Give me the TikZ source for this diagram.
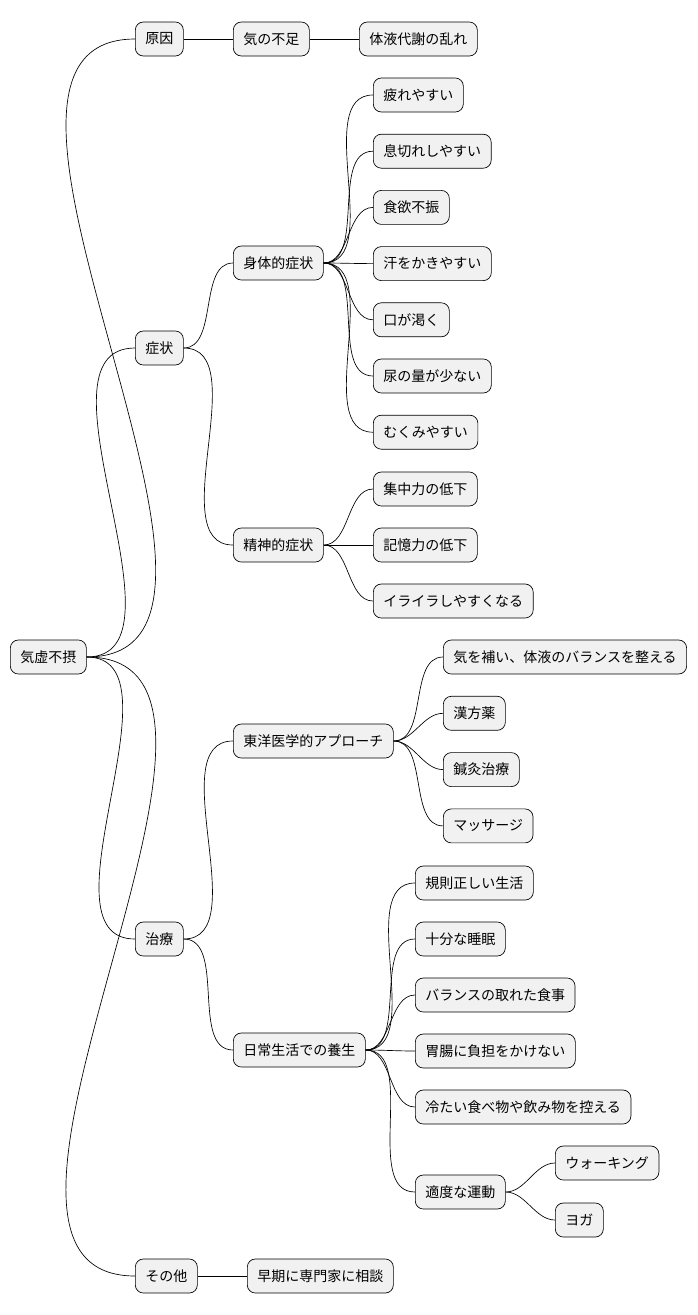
\documentclass[tikz,border=0pt]{standalone}
\usepackage{fontspec}
\setmainfont{Noto Sans CJK JP}
\usetikzlibrary{positioning}
\definecolor{boxfill}{HTML}{F1F1F1}
\tikzset{
    every picture/.style={line width=0.5pt},
    box/.style={draw,rounded corners=6pt,fill=boxfill,minimum height=25.5pt,
        inner xsep=7.5pt,inner ysep=0pt,anchor=west,font=\fontsize{10.5pt}{12pt}\selectfont},
    link/.style={out=0,in=180,looseness=0.9}
}
\begin{document}
\begin{tikzpicture}[x=0.75pt,y=-0.75pt]
    \useasboundingbox (0,0) rectangle (698,1315);
    % root and first level
    \node[box] (root) at (10,657) {気虚不摂};
    \node[box] (cause) at (135,39) {原因};
    \node[box] (symp) at (135,348) {症状};
    \node[box] (treat) at (135,939) {治療};
    \node[box] (other) at (135,1276) {その他};
    \foreach \n in {cause,symp,treat,other}
        \draw (root.east) to[link] (\n.west);
    % cause
    \node[box] (qi) at (233,39) {気の不足};
    \node[box] (fluid) at (359,39) {体液代謝の乱れ};
    \draw (cause) -- (qi) -- (fluid);
    % symptoms
    \node[box] (body) at (233,263) {身体的症状};
    \node[box] (mind) at (233,545) {精神的症状};
    \draw (symp.east) to[link] (body.west);
    \draw (symp.east) to[link] (mind.west);
    \foreach \t [count=\i] in {疲れやすい,息切れしやすい,食欲不振,汗をかきやすい,口が渇く,尿の量が少ない,むくみやすい} {
        \node[box] (b\i) at (373,{95+(\i-1)*56.2}) {\t};
        \draw (body.east) to[link] (b\i.west);
    }
    \foreach \t [count=\i] in {集中力の低下,記憶力の低下,イライラしやすくなる} {
        \node[box] (m\i) at (373,{489+(\i-1)*56}) {\t};
        \draw (mind.east) to[link] (m\i.west);
    }
    % treatment
    \node[box] (east) at (233,741) {東洋医学的アプローチ};
    \node[box] (daily) at (233,1050) {日常生活での養生};
    \draw (treat.east) to[link] (east.west);
    \draw (treat.east) to[link] (daily.west);
    \foreach \t [count=\i] in {気を補い、体液のバランスを整える,漢方薬,鍼灸治療,マッサージ} {
        \node[box] (e\i) at (443,{657+(\i-1)*56.3}) {\t};
        \draw (east.east) to[link] (e\i.west);
    }
    \foreach \t [count=\i] in {規則正しい生活,十分な睡眠,バランスの取れた食事,胃腸に負担をかけない,冷たい食べ物や飲み物を控える} {
        \node[box] (d\i) at (415,{883+(\i-1)*56}) {\t};
        \draw (daily.east) to[link] (d\i.west);
    }
    \node[box] (exer) at (415,1192) {適度な運動};
    \draw (daily.east) to[link] (exer.west);
    \node[box] (walk) at (555,1163) {ウォーキング};
    \node[box] (yoga) at (555,1220) {ヨガ};
    \draw (exer.east) to[link] (walk.west);
    \draw (exer.east) to[link] (yoga.west);
    % other
    \node[box] (expert) at (247,1276) {早期に専門家に相談};
    \draw (other) -- (expert);
\end{tikzpicture}
\end{document}
